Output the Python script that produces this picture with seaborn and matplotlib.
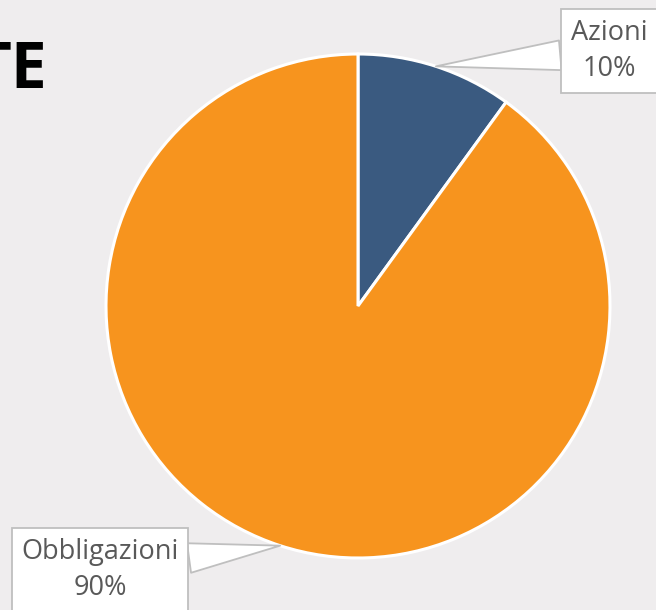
import numpy as np
import matplotlib
matplotlib.use("Agg")
import matplotlib.pyplot as plt
import seaborn as sns

# data
categories = ["Azioni", "Obbligazioni"]
shares = [10, 90]
slice_colors = ["#3a5a80", "#f7941e"]
# label box centres (pie radius units)
label_pos = [(0.996, 1.012), (-1.024, -1.048)]

bg = "#efedee"
sns.set_theme(style="white", rc={"figure.facecolor": bg, "axes.facecolor": bg})
plt.rcParams["font.family"] = ["Open Sans", "DejaVu Sans"]

fig = plt.figure(figsize=(6.56, 6.10), dpi=100)
# pie centre at (358, 306) px, radius 252 px
ax = fig.add_axes([(358 - 252) / 656, (610 - 306 - 252) / 610, 504 / 656, 504 / 610])

wedges, _ = ax.pie(shares, colors=slice_colors, startangle=90, counterclock=False,
                   wedgeprops=dict(edgecolor="white", linewidth=2.2))
ax.set_xlim(-1, 1)
ax.set_ylim(-1, 1)
ax.set_aspect("equal")
ax.axis("off")

for w, name, val, pos in zip(wedges, categories, shares, label_pos):
    mid = np.deg2rad((w.theta1 + w.theta2) / 2)
    tip = (np.cos(mid), np.sin(mid))
    ax.annotate(f"{name}\n{val}%", xy=tip, xytext=pos, ha="center", va="center",
                fontsize=19.5, color="#595959", linespacing=1.38,
                annotation_clip=False,
                bbox=dict(boxstyle="square,pad=0.36", fc="white", ec="#bfbfbf", lw=1.3),
                arrowprops=dict(arrowstyle="wedge,tail_width=1.1", fc="white",
                                ec="#bfbfbf", lw=1.3, shrinkA=0, shrinkB=0))

fig.text(47 / 656, 1 - 88 / 610, "TE", ha="right", va="baseline",
         fontsize=46, fontweight="bold", color="black")

fig.savefig("out.png", dpi=100, facecolor=bg)
